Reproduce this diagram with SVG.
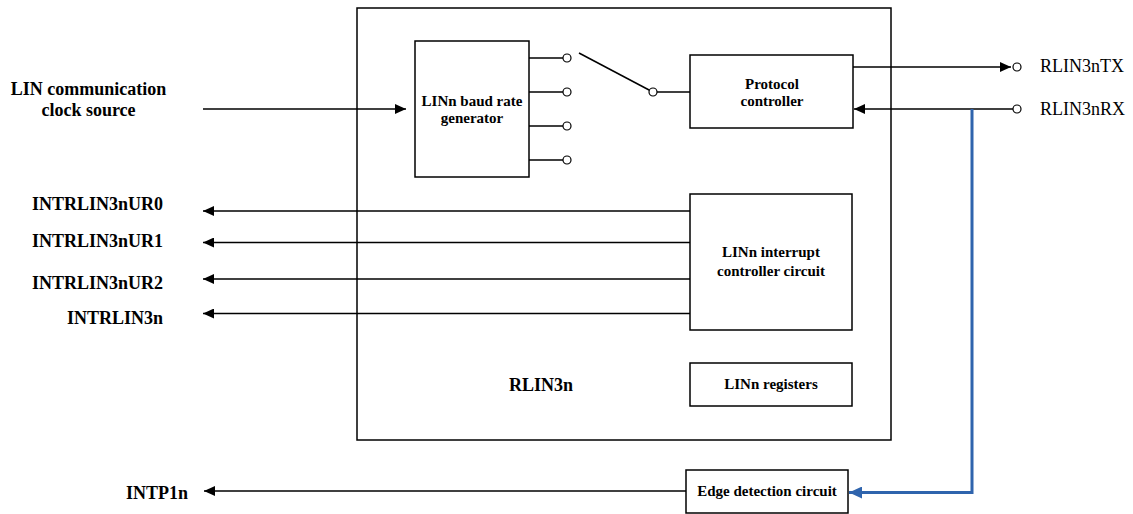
<svg xmlns="http://www.w3.org/2000/svg" width="1133" height="514" viewBox="0 0 1133 514">
<defs>
<marker id="ah" markerUnits="userSpaceOnUse" markerWidth="12" markerHeight="10" refX="11" refY="5" orient="auto">
<path d="M0,0 L11,5 L0,10 Z" fill="#000"/>
</marker>
<marker id="ahb" markerUnits="userSpaceOnUse" markerWidth="14" markerHeight="12" refX="13" refY="6" orient="auto">
<path d="M0,0 L13,6 L0,12 Z" fill="#2f64ad"/>
</marker>
<style>
.box{fill:#fff;stroke:#000;stroke-width:1.5}
.ln{fill:none;stroke:#000;stroke-width:1.5}
.pin{fill:#fff;stroke:#000;stroke-width:1.2}
text{font-family:'Liberation Serif','DejaVu Serif',serif}
.big{font-weight:bold;font-size:18px;fill:#000}
.sm{font-weight:bold;font-size:15px;fill:#000;text-anchor:middle}
.reg{font-size:18px;fill:#000}
</style>
</defs>
<g id="rlin3n">
<rect class="box" x="357" y="8" width="534" height="432"/>
<text class="big" x="541" y="391" text-anchor="middle" font-family="Liberation Serif, serif">RLIN3n</text>
</g>
<g id="baud">
<rect class="box" x="415" y="41" width="114" height="136"/>
<text class="sm" x="472" y="106">LINn baud rate</text>
<text class="sm" x="472" y="123">generator</text>
</g>
<g id="protocol">
<rect class="box" x="690" y="55" width="163" height="73"/>
<text class="sm" x="772" y="89">Protocol</text>
<text class="sm" x="772" y="106">controller</text>
</g>
<g id="interrupt">
<rect class="box" x="690" y="194" width="162" height="136"/>
<text class="sm" x="771" y="257">LINn interrupt</text>
<text class="sm" x="771" y="276">controller circuit</text>
</g>
<g id="registers">
<rect class="box" x="690" y="363" width="162" height="43"/>
<text class="sm" x="771" y="389">LINn registers</text>
</g>
<g id="edge">
<rect class="box" x="686" y="470" width="162" height="43"/>
<text class="sm" x="767" y="496">Edge detection circuit</text>
</g>
<g id="switch">
<line class="ln" x1="529" y1="58" x2="563" y2="58"/>
<line class="ln" x1="529" y1="92" x2="563" y2="92"/>
<line class="ln" x1="529" y1="126" x2="563" y2="126"/>
<line class="ln" x1="529" y1="160" x2="563" y2="160"/>
<circle class="pin" cx="567" cy="58" r="4"/>
<circle class="pin" cx="567" cy="92" r="4"/>
<circle class="pin" cx="567" cy="126" r="4"/>
<circle class="pin" cx="567" cy="160" r="4"/>
<line class="ln" x1="579" y1="53" x2="650" y2="90.5"/>
<line class="ln" x1="657" y1="92" x2="690" y2="92"/>
<circle class="pin" cx="653" cy="92" r="4"/>
</g>
<g id="labels">
<text class="big" x="88.5" y="95" text-anchor="middle">LIN communication</text>
<text class="big" x="88.5" y="116" text-anchor="middle">clock source</text>
<text class="big" x="163" y="210" text-anchor="end">INTRLIN3nUR0</text>
<text class="big" x="163" y="247" text-anchor="end">INTRLIN3nUR1</text>
<text class="big" x="163" y="289" text-anchor="end">INTRLIN3nUR2</text>
<text class="big" x="163" y="324" text-anchor="end">INTRLIN3n</text>
<text class="big" x="188" y="499" text-anchor="end">INTP1n</text>
<text class="reg" x="1040" y="72">RLIN3nTX</text>
<text class="reg" x="1040" y="115">RLIN3nRX</text>
<circle class="pin" cx="1017" cy="67" r="4"/>
<circle class="pin" cx="1017" cy="109" r="4"/>
</g>
<g id="connectors">
<line class="ln" x1="203" y1="109" x2="406" y2="109" marker-end="url(#ah)"/>
<line class="ln" x1="853" y1="67" x2="1011" y2="67" marker-end="url(#ah)"/>
<line class="ln" x1="1013" y1="109" x2="854" y2="109" marker-end="url(#ah)"/>
<line class="ln" x1="690" y1="211" x2="203" y2="211" marker-end="url(#ah)"/>
<line class="ln" x1="690" y1="242.5" x2="203" y2="242.5" marker-end="url(#ah)"/>
<line class="ln" x1="690" y1="279" x2="203" y2="279" marker-end="url(#ah)"/>
<line class="ln" x1="690" y1="313.5" x2="203" y2="313.5" marker-end="url(#ah)"/>
<line class="ln" x1="686" y1="491" x2="204" y2="491" marker-end="url(#ah)"/>
<polyline points="972,109 972,492.5 849,492.5" fill="none" stroke="#2f64ad" stroke-width="3" marker-end="url(#ahb)"/>
</g>
</svg>
